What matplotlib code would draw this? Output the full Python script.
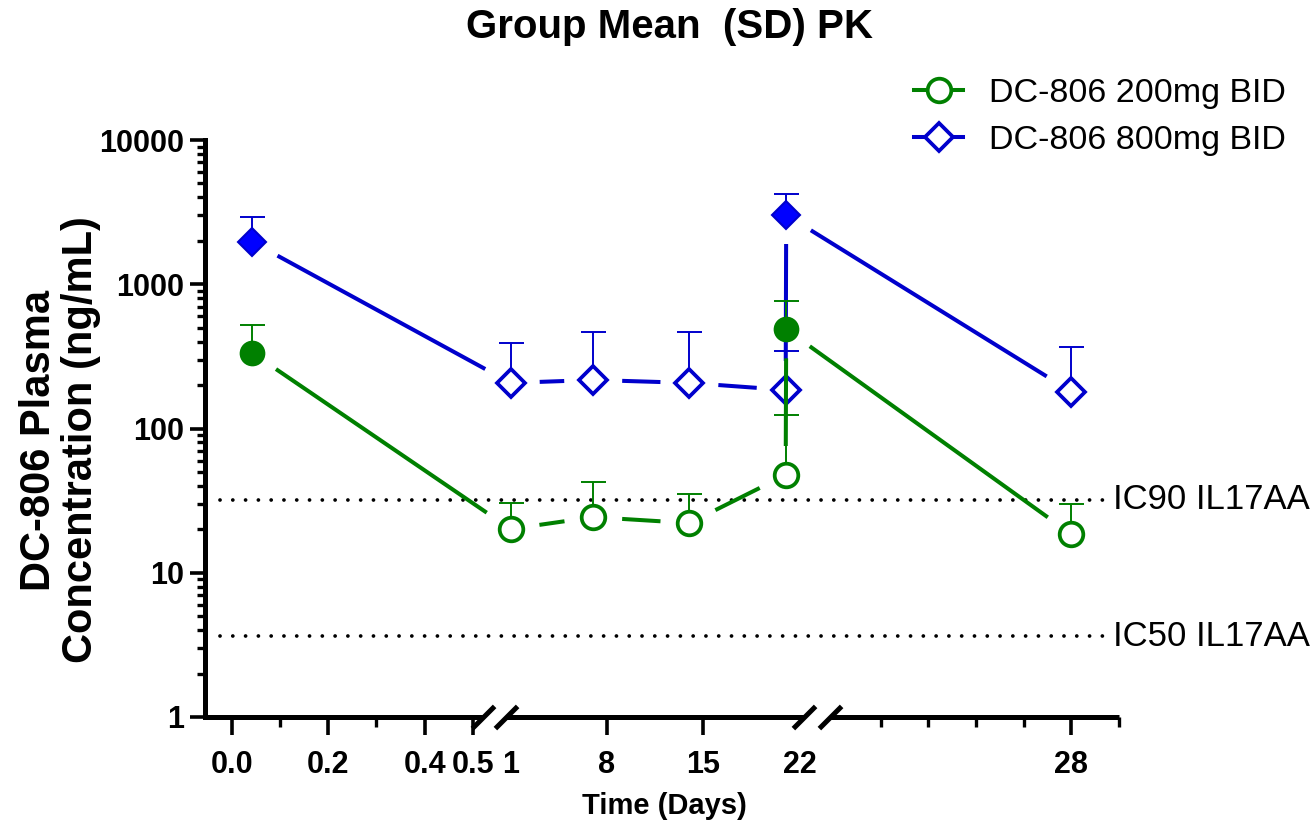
import numpy as np
import matplotlib.pyplot as plt
from matplotlib.lines import Line2D
import matplotlib.transforms as mtransforms

plt.rcParams['font.family'] = ['Liberation Sans', 'DejaVu Sans']

# ---- data (days, group mean, +SD) ----
DAYS = [0.0417, 1, 7, 14, 21, 21.04, 28]
FILLED = [True, False, False, False, False, True, False]

MEAN_200 = [335, 20.1, 24.3, 22.1, 47.6, 487, 18.5]
SD_200 = [190, 10.4, 18.3, 13.1, 76.4, 278, 11.3]

MEAN_800 = [1970, 207, 217, 207, 185, 3020, 180]
SD_800 = [955, 185, 250, 256, 160, 1200, 186]

IC90 = 32.0
IC50 = 3.64

XTICKS = [0.0, 0.2, 0.4, 0.5, 1, 8, 15, 22, 28]
XTICK_LABELS = ['0.0', '0.2', '0.4', '0.5', '1', '8', '15', '22', '28']
XMINOR = [0.1, 0.3, 24, 25, 26, 27, 29]
YTICKS = [1, 10, 100, 1000, 10000]
YTICK_LABELS = ['1', '10', '100', '1000', '10000']

GREEN = '#008000'
BLUE = '#0000CC'
BLUE_FILL = '#0000FF'

# ---- broken x axis: piecewise linear scale (days -> axes fraction) ----
SEGMENTS = [(-0.056, 0.521), (0.636, 22.31), (22.94, 29.0)]
SEG_FRAC = [(0.0, 0.304), (0.329, 0.655), (0.684, 1.0)]
XB = np.array([v for s in SEGMENTS for v in s])
FB = np.array([v for s in SEG_FRAC for v in s])
S_LO = (FB[1] - FB[0]) / (XB[1] - XB[0])
S_HI = (FB[-1] - FB[-2]) / (XB[-1] - XB[-2])


def fwd(x):
    x = np.asarray(x, dtype=float)
    return np.where(x < XB[0], FB[0] + (x - XB[0]) * S_LO,
                    np.where(x > XB[-1], FB[-1] + (x - XB[-1]) * S_HI,
                             np.interp(x, XB, FB)))


def inv(y):
    y = np.asarray(y, dtype=float)
    return np.where(y < FB[0], XB[0] + (y - FB[0]) / S_LO,
                    np.where(y > FB[-1], XB[-1] + (y - FB[-1]) / S_HI,
                             np.interp(y, FB, XB)))


fig = plt.figure(figsize=(13.16, 8.25), dpi=100)
ax = fig.add_axes([205 / 1316, 108 / 825, 914 / 1316, 577 / 825])
ax.set_xscale('function', functions=(fwd, inv))
ax.set_yscale('log')
ax.set_xlim(XB[0], XB[-1])
ax.set_ylim(1, 10000)

GAP_PX = 29  # white space left around each marker on the connecting lines


def gapped_segments(xs, ys, color, z):
    pts = ax.transData.transform(np.column_stack([xs, ys]))
    back = ax.transData.inverted()
    for p0, p1 in zip(pts[:-1], pts[1:]):
        d = p1 - p0
        L = np.hypot(*d)
        if L <= 2 * GAP_PX:
            continue
        u = d / L
        a = back.transform(p0 + u * GAP_PX)
        b = back.transform(p1 - u * GAP_PX)
        ax.plot([a[0], b[0]], [a[1], b[1]], color=color, lw=2.9,
                solid_capstyle='butt', zorder=z)


def draw_series(mean, sd, color, marker, ms, z):
    gapped_segments(DAYS, mean, color, z)
    ax.errorbar(DAYS, mean, yerr=[np.zeros(len(sd)), sd], fmt='none',
                ecolor=color, elinewidth=1.4, capsize=9, capthick=1.4,
                zorder=z + 0.1)
    for x, y, f in zip(DAYS, mean, FILLED):
        if f:
            face = BLUE_FILL if color == BLUE else color
            ax.plot([x], [y], marker=marker, ms=ms, mfc=face, mec=color,
                    mew=1.5, ls='none', zorder=z + 0.2)
        else:
            ax.plot([x], [y], marker=marker, ms=ms, mfc='white', mec=color,
                    mew=2.7, ls='none', zorder=z + 0.2)


draw_series(MEAN_800, SD_800, BLUE, 'D', 14.5, 3)
draw_series(MEAN_200, SD_200, GREEN, 'o', 17, 4)

# reference concentrations
hl = mtransforms.blended_transform_factory(ax.transAxes, ax.transData)
for val, name in [(IC90, 'IC90 IL17AA'), (IC50, 'IC50 IL17AA')]:
    ax.plot([0.016, 0.987], [val, val], transform=hl, color='black', lw=2.7,
            ls=(0, (0.01, 3.4)), dash_capstyle='round', zorder=2, clip_on=False)
    ax.text(0.993, val, name, transform=hl, ha='left', va='center',
            fontsize=25, clip_on=False)

# axes styling
for side in ['top', 'right', 'bottom']:
    ax.spines[side].set_visible(False)
ax.spines['left'].set_linewidth(3.6)

ax.set_yticks(YTICKS, labels=YTICK_LABELS)
ax.yaxis.set_minor_locator(plt.matplotlib.ticker.LogLocator(base=10, subs=np.arange(2, 10)))
ax.yaxis.set_minor_formatter(plt.NullFormatter())
ax.tick_params(axis='y', which='major', length=11, width=2.6, labelsize=22, pad=4)
ax.tick_params(axis='y', which='minor', length=6, width=2.4)

ax.set_xticks(XTICKS, labels=XTICK_LABELS)
ax.set_xticks(XMINOR, minor=True)
ax.tick_params(axis='x', which='major', length=13, width=2.6, labelsize=22, pad=11)
ax.tick_params(axis='x', which='minor', length=7, width=2.4)
for t in ax.get_xticklabels() + ax.get_yticklabels():
    t.set_fontweight('bold')
for loc, tick in zip(XTICKS, ax.xaxis.get_major_ticks()):
    if loc in (1, 22):
        tick.tick1line.set_visible(False)

# bottom axis line drawn per segment, with // marks at the breaks
bx = mtransforms.blended_transform_factory(ax.transData, ax.transAxes)
for lo, hi in SEGMENTS:
    ax.plot([lo, hi], [0, 0], transform=bx, color='black', lw=3.6,
            solid_capstyle='butt', clip_on=False, zorder=5)
slash = [(-1, -1), (1, 1)]
break_x = [SEGMENTS[0][1], SEGMENTS[1][0], SEGMENTS[1][1], SEGMENTS[2][0]]
ax.plot(break_x, [0] * 4, transform=bx, ls='none', marker=slash, ms=16,
        mew=3.6, color='black', clip_on=False, zorder=6)

# texts
fig.text(670 / 1316, 1 - 27 / 825, 'Group Mean  (SD) PK', ha='center',
         va='center', fontsize=29, fontweight='bold')
fig.text(60 / 1316, 1 - 440 / 825, 'DC-806 Plasma\nConcentration (ng/mL)',
         rotation=90, ha='center', va='center', fontsize=30,
         fontweight='bold', multialignment='center', linespacing=1.05)
fig.text(664 / 1316, 1 - 806 / 825, 'Time (Days)', ha='center', va='center',
         fontsize=21, fontweight='bold')

handles = [
    Line2D([], [], color=GREEN, lw=2.9, marker='o', ms=17, mfc='white',
           mec=GREEN, mew=2.7, label='DC-806 200mg BID'),
    Line2D([], [], color=BLUE, lw=2.9, marker='D', ms=14.5, mfc='white',
           mec=BLUE, mew=2.7, label='DC-806 800mg BID'),
]
fig.legend(handles=handles, loc='center left',
           bbox_to_anchor=(914 / 1316, 1 - 117 / 825), frameon=False,
           fontsize=24.5, handlelength=1.45, handletextpad=0.75,
           labelspacing=0.45, borderpad=0, borderaxespad=0)

fig.savefig('out.png', dpi=100)
